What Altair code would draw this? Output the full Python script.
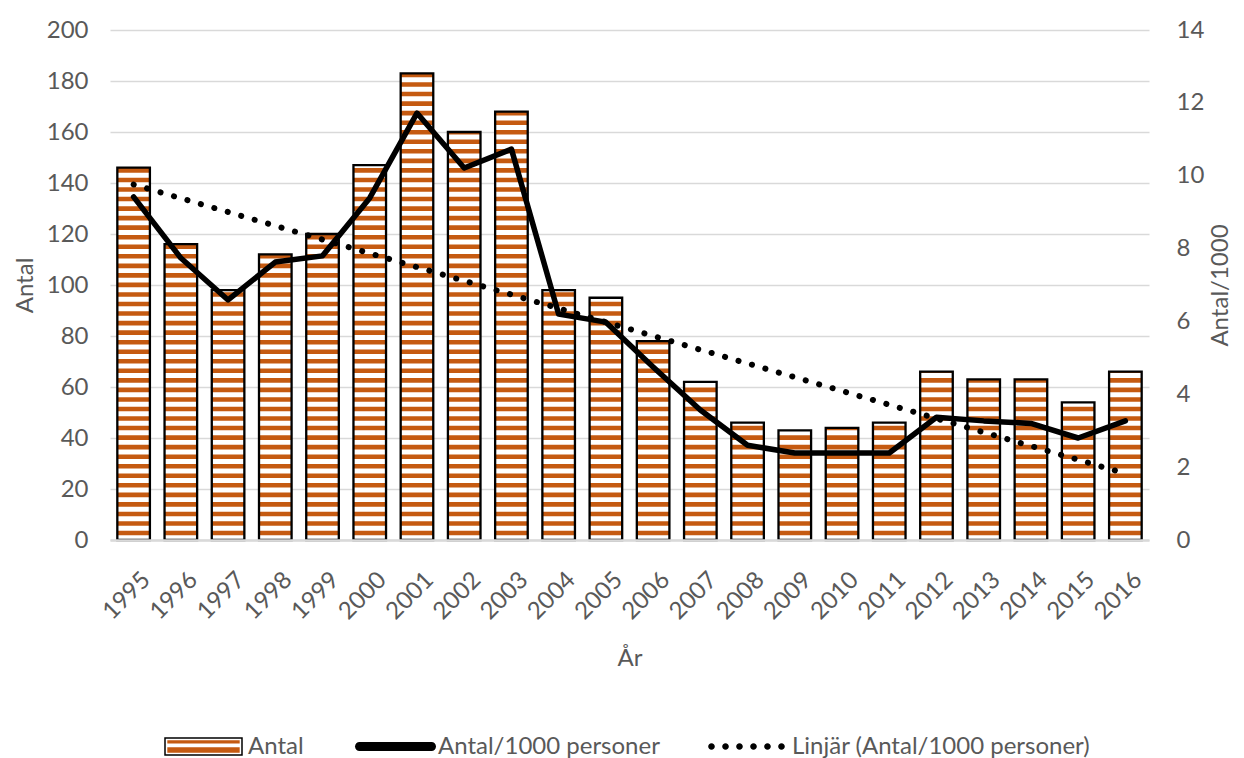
import altair as alt
import pandas as pd

# ---------------- data ----------------
years = list(range(1995, 2017))
antal = [146, 116, 98, 112, 120, 147, 183, 160, 168, 98, 95, 78, 62, 46, 43, 44, 46, 66, 63, 63, 54, 66]
antal_per_1000 = [9.42, 7.74, 6.59, 7.63, 7.80, 9.39, 11.72, 10.21, 10.73, 6.20, 5.98, 4.75,
                  3.57, 2.60, 2.39, 2.39, 2.39, 3.37, 3.27, 3.20, 2.80, 3.27]
left_ticks = list(range(0, 201, 20))
right_ticks = list(range(0, 15, 2))
legend_labels = ["Antal", "Antal/1000 personer", "Linjär (Antal/1000 personer)"]

df = pd.DataFrame({"Year": years, "Antal": antal, "Rate": antal_per_1000})

# ---------------- style ----------------
ORANGE = "#c55a11"
TEXT = "#595959"
GRID = "#d9d9d9"
FONT = "Lato"
FS = 24
W, H = 1039, 510

STRIPE_STEP = 3.742   # pattern period (axis units)
STRIPE_START = 1.84
STRIPE_END = 3.64

x_axis = alt.Axis(labelAngle=315, labelAlign="right", labelBaseline="middle", labelPadding=36,
                  labelOffset=13, labelOverlap=False, ticks=False, domain=True, domainColor=GRID,
                  domainWidth=2.5, labelFont=FONT, labelFontSize=FS, labelColor=TEXT, zindex=1,
                  title="År", titleFont=FONT, titleFontSize=FS, titleColor=TEXT, titleFontWeight="normal",
                  titleX=W / 2, titleY=118, titleAlign="center", titleBaseline="middle")
x_enc = alt.X("Year:O", scale=alt.Scale(paddingInner=0.31, paddingOuter=0.155), axis=x_axis, title="År")

left_axis = alt.Axis(values=left_ticks, grid=True, gridColor=GRID, gridWidth=1.5, domain=False,
                     ticks=False, tickSize=0, labelPadding=22, labelFont=FONT, labelFontSize=FS,
                     labelColor=TEXT, title="Antal", titleFont=FONT, titleFontSize=FS, titleColor=TEXT,
                     titleFontWeight="normal", titleAngle=270, titleX=-85, titleY=H / 2,
                     titleAlign="center", titleBaseline="middle")
right_axis = alt.Axis(values=right_ticks, grid=False, domain=False, ticks=False, tickSize=0,
                      labelPadding=27, labelFont=FONT, labelFontSize=FS, labelColor=TEXT, orient="right",
                      title="Antal/1000", titleFont=FONT, titleFontSize=FS, titleColor=TEXT,
                      titleFontWeight="normal", titleAngle=270, titleX=71, titleY=H / 2,
                      titleAlign="center", titleBaseline="middle")
y_left_scale = alt.Scale(domain=[0, 200])
y_right_scale = alt.Scale(domain=[0, 14])

base = alt.Chart(df)

bars_white = base.mark_bar(color="white").encode(
    x=x_enc, y=alt.Y("Antal:Q", scale=y_left_scale, axis=left_axis, title="Antal"))

stripes = base.transform_calculate(
    s=f"sequence(0, datum.Antal, {STRIPE_STEP})"
).transform_flatten(["s"]).transform_calculate(
    y0=f"datum.s + {STRIPE_START}",
    y1=f"min(datum.s + {STRIPE_END}, datum.Antal)"
).transform_filter("datum.y0 < datum.Antal").mark_bar(color=ORANGE).encode(
    x=x_enc, y=alt.Y("y0:Q", scale=y_left_scale, axis=left_axis, title="Antal"), y2="y1:Q")

bars_outline = base.mark_bar(fill="transparent", stroke="black", strokeWidth=2.3).encode(
    x=x_enc, y=alt.Y("Antal:Q", scale=y_left_scale, axis=left_axis, title="Antal"))

bar_group = alt.layer(bars_white, stripes, bars_outline)

line = base.mark_line(color="black", strokeWidth=5.5, strokeJoin="round", strokeCap="round").encode(
    x=x_enc, y=alt.Y("Rate:Q", scale=y_right_scale, axis=right_axis, title="Antal/1000"))

trend = base.transform_calculate(
    i="datum.Year - 1995", xy="(datum.Year - 1995) * datum.Rate", xx="(datum.Year - 1995) * (datum.Year - 1995)"
).transform_joinaggregate(
    mx="mean(i)", my="mean(Rate)", mxy="mean(xy)", mxx="mean(xx)"
).transform_calculate(
    trend="datum.my + (datum.mxy - datum.mx * datum.my) / (datum.mxx - datum.mx * datum.mx) * (datum.i - datum.mx)"
).mark_line(color="black", strokeWidth=6, strokeCap="round", strokeDash=[0.1, 13.9]).encode(
    x=x_enc, y=alt.Y("trend:Q", scale=y_right_scale, axis=right_axis, title="Antal/1000"))

line_group = alt.layer(line, trend)

# ---------------- legend (symbols only, no data) ----------------
P_OUTLINE = "M-1,-0.22H1V0.22H-1Z"
P_STRIPES = "M-0.94,-0.16H0.94V-0.08H-0.94Z M-0.94,0.02H0.94V0.16H-0.94Z"
P_LINE = "M-0.889,-0.111H0.889A0.111,0.111 0 0 1 0.889,0.111H-0.889A0.111,0.111 0 0 1 -0.889,-0.111Z"
dots = []
for c in [-0.909, -0.545, -0.182, 0.182, 0.545, 0.909]:
    r = 0.086
    dots.append(f"M{c - r:.3f},0A{r},{r} 0 1,0 {c + r:.3f},0A{r},{r} 0 1,0 {c - r:.3f},0Z")
P_DOTS = " ".join(dots)

LEG_Y = 677


def leg(x, y, size, offset, opacity=1):
    return alt.Legend(title=None, orient="none", legendX=x, legendY=y, padding=0, symbolSize=size,
                      labelOffset=offset, labelFont=FONT, labelFontSize=FS, labelColor=TEXT,
                      labelOpacity=opacity, symbolOpacity=1, labelLimit=600)


empty = base.transform_filter("false")
leg_outline = empty.mark_point(filled=False, color="black", strokeWidth=2.5, size=5929, opacity=0).encode(
    shape=alt.Shape("lab:N", scale=alt.Scale(domain=[legend_labels[0]], range=[P_OUTLINE]),
                    legend=leg(54, LEG_Y, 5929, 5)))
leg_stripes = empty.mark_point(filled=True, color=ORANGE, strokeWidth=0, size=5929, opacity=0).encode(
    shape=alt.Shape("lab2:N", scale=alt.Scale(domain=[legend_labels[0]], range=[P_STRIPES]),
                    legend=leg(54, LEG_Y, 5929, 5, 0)))
leg_line = empty.mark_point(filled=True, color="black", strokeWidth=0, size=6561, opacity=0).encode(
    shape=alt.Shape("lab3:N", scale=alt.Scale(domain=[legend_labels[1]], range=[P_LINE]),
                    legend=leg(244, LEG_Y - 2, 6561, 1)))
leg_dots = empty.mark_point(filled=True, color="black", strokeWidth=0, size=5929, opacity=0).encode(
    shape=alt.Shape("lab4:N", scale=alt.Scale(domain=[legend_labels[2]], range=[P_DOTS]),
                    legend=leg(597, LEG_Y, 5929, 6)))

chart = alt.layer(bar_group, line_group, leg_outline, leg_stripes, leg_line, leg_dots).resolve_scale(
    y="independent", shape="independent"
).resolve_legend(shape="independent").properties(
    width=W, height=H,
    autosize=alt.AutoSizeParams(type="none"),
    padding={"left": 102, "top": 22, "right": 87, "bottom": 218},
).configure(font=FONT).configure_view(strokeWidth=0)

chart.save("out.html", embed_options={"renderer": "svg", "actions": False})
